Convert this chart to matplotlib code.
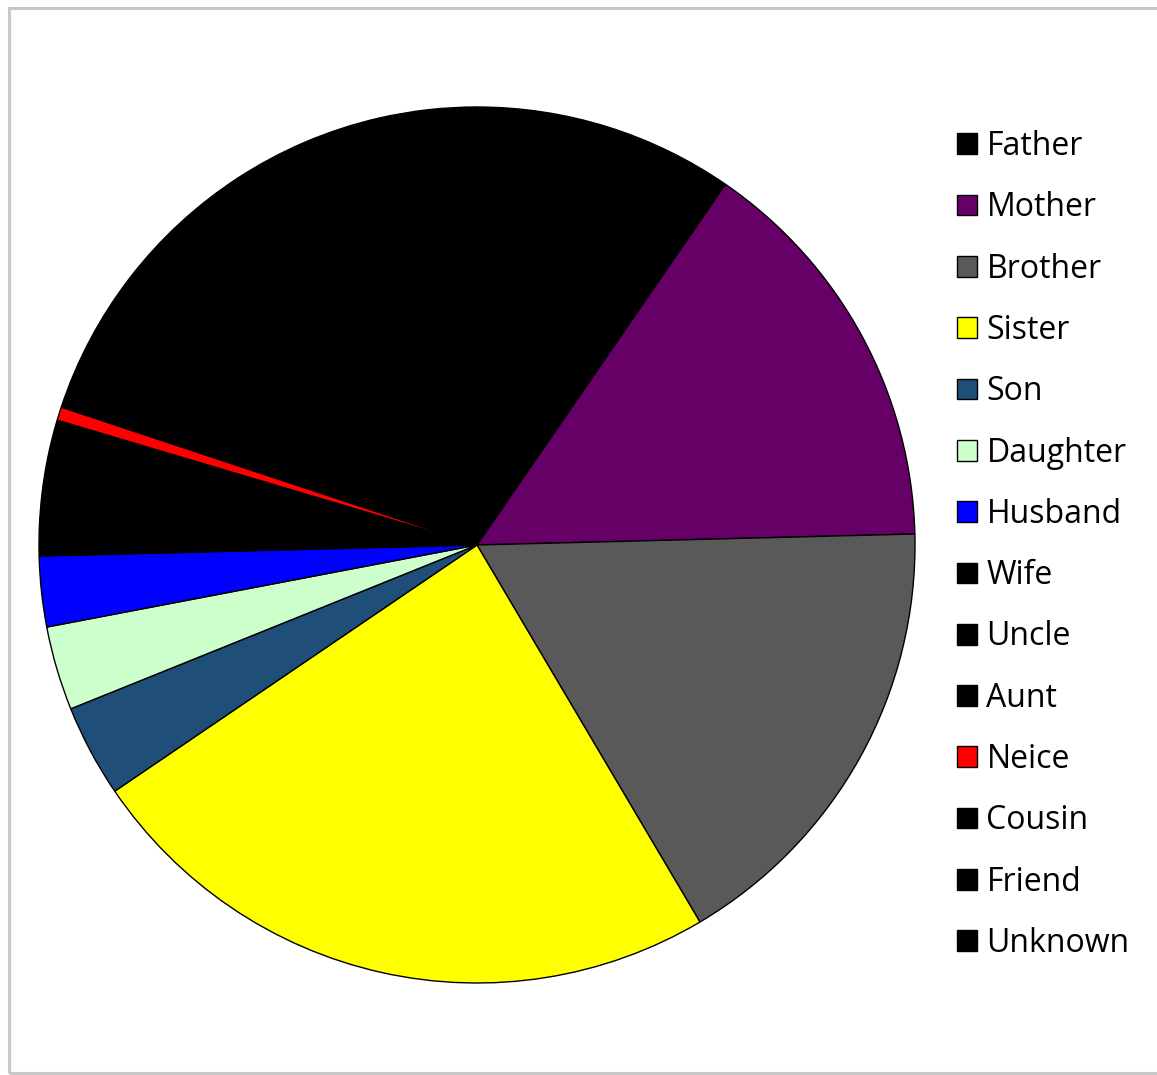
import matplotlib
matplotlib.use("Agg")
import matplotlib.pyplot as plt
import matplotlib.patches as patches

# relation shares (percent), read clockwise from 12 o'clock
labels = ["Father", "Mother", "Brother", "Sister", "Son", "Daughter", "Husband",
          "Wife", "Uncle", "Aunt", "Neice", "Cousin", "Friend", "Unknown"]
shares = [9.6, 15.0, 16.9, 24.0, 3.4, 3.1, 2.6, 2.2, 1.4, 1.4, 0.5, 10.7, 5.6, 3.6]
colors = ["#000000", "#660066", "#595959", "#ffff00", "#1f4e79", "#ccffcc", "#0000ff",
          "#000000", "#000000", "#000000", "#ff0000", "#000000", "#000000", "#000000"]

W, H = 1157, 1075
fig = plt.figure(figsize=(W / 100, H / 100), dpi=100)

# outer chart border (light grey, left/top/bottom visible)
border = patches.Rectangle((9 / W, 2 / H), 1.0, (H - 10) / H, transform=fig.transFigure,
                           fill=False, ec="#c8c8c8", lw=2.2)
fig.patches.append(border)

cx, cy, r = 477, 545, 438
ax = fig.add_axes([(cx - r) / W, (H - cy - r) / H, 2 * r / W, 2 * r / H])
wedges, _ = ax.pie(shares, colors=colors, startangle=90, counterclock=False, radius=1,
                   wedgeprops=dict(edgecolor="#000000", linewidth=1.0))
ax.set_xlim(-1.0, 1.0)
ax.set_ylim(-1.0, 1.0)
ax.axis("off")

fig.legend(wedges, labels, loc="upper left", bbox_to_anchor=(957 / W, 1 - 130 / H),
           frameon=False, prop=dict(family="Open Sans", size=23),
           handlelength=0.62, handleheight=0.62, handletextpad=0.3,
           labelspacing=0.886, borderpad=0, borderaxespad=0)

fig.savefig("out.png", dpi=100, facecolor="white")
